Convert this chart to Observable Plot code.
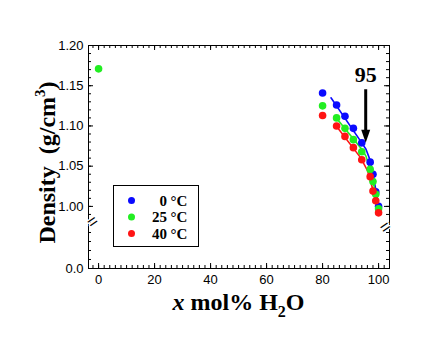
<!DOCTYPE html>
<html><head><meta charset="utf-8">
<script src="https://cdn.jsdelivr.net/npm/d3@7"></script>
<script src="https://cdn.jsdelivr.net/npm/@observablehq/plot@0.6"></script>
<style>
body{margin:0;background:#fff;}
#wrap{width:434px;height:346px;}
</style></head><body><div id="wrap"></div>
<script>
// ---- data ----
const series = ["0", "25", "40"];
const seriesColors = ["#0a0aff", "#22ee22", "#ff1414"];
const xMol = [80, 85, 88, 91, 94, 97, 98, 99, 100];
const density0 = [1.141, 1.126, 1.112, 1.097, 1.079, 1.055, 1.040, 1.018, 1.000];
const density25 = [1.125, 1.110, 1.097, 1.083, 1.068, 1.046, 1.031, 1.015, 0.997];
const density40 = [1.113, 1.100, 1.087, 1.073, 1.058, 1.037, 1.019, 1.007, 0.992];
const pureX25 = [0];
const pureDensity25 = [1.171];
// fitted curves
const fitX0 = [83, 94, 95.5, 96.7, 97.6, 99, 100];
const fitY0 = [1.135, 1.079, 1.071, 1.060, 1.046, 1.021, 1.000];
const fitX25 = [84.4, 94, 95.5, 96.9, 98.4, 100];
const fitY25 = [1.112, 1.071, 1.0625, 1.046, 1.025, 0.998];
const fitX40 = [84.4, 93.7, 94.9, 96.1, 97.3, 99, 100];
const fitY40 = [1.102, 1.060, 1.052, 1.044, 1.029, 1.008, 0.994];
// annotation
const arrowAt = 95.4, arrowTop = 1.145, arrowTip = 1.079, arrowLabel = "95", arrowLabelY = 1.163;
// axes
const xTicks = [0, 20, 40, 60, 80, 100];
const yTicks = [0.0, 1.00, 1.05, 1.10, 1.15, 1.20];
const yBreak = 0.9775;
const yMinorLower = [0.2, 0.4, 0.6, 0.8];

// ---- build tables ----
const densities = [density0, density25, density40];
const rows = [];
series.forEach((s, i) => xMol.forEach((x, j) => rows.push({series: s, x, y: densities[i][j]})));
pureX25.forEach((x, j) => rows.push({series: "25", x, y: pureDensity25[j]}));
const fits = [[fitX0, fitY0], [fitX25, fitY25], [fitX40, fitY40]];
const fitRows = [];
series.forEach((s, i) => fits[i][0].forEach((x, j) => fitRows.push({series: s, x, y: fits[i][1][j]})));

const W = 434, H = 346, mL = 88, mR = 45, mT = 45, mB = 78;
const fw = W - mL - mR, fh = H - mT - mB;
const xMinor = d3.range(-2, 104, 2);
const yMinorUpper = d3.range(98, 121, 1).map(d => d / 100);
const yMajorTicks = yTicks;

const chart = Plot.plot({
  width: W, height: H, marginLeft: mL, marginRight: mR, marginTop: mT, marginBottom: mB,
  style: {fontFamily: "'Liberation Sans', Arial, sans-serif", fontSize: "13px", color: "#000", background: "#fff"},
  x: {domain: [-3.6, 103.9]},
  y: {type: "linear", domain: [0, yBreak, 1.2], range: [H - mB, 224, mT]},
  color: {domain: series, range: seriesColors},
  marks: [
    Plot.frame({stroke: "#000"}),
    // ticks (inward)
    Plot.tickY(yMajorTicks, {y: d => d, insetRight: fw - 5, stroke: "#000"}),
    Plot.tickY(yMajorTicks, {y: d => d, insetLeft: fw - 5, stroke: "#000"}),
    Plot.tickY(yMinorUpper.concat(yMinorLower), {y: d => d, insetRight: fw - 3, stroke: "#000"}),
    Plot.tickY(yMinorUpper.concat(yMinorLower), {y: d => d, insetLeft: fw - 3, stroke: "#000"}),
    Plot.tickX(xTicks, {x: d => d, insetTop: fh - 5, stroke: "#000"}),
    Plot.tickX(xTicks, {x: d => d, insetBottom: fh - 5, stroke: "#000"}),
    Plot.tickX(xMinor, {x: d => d, insetTop: fh - 3, stroke: "#000"}),
    Plot.tickX(xMinor, {x: d => d, insetBottom: fh - 3, stroke: "#000"}),
    // tick labels
    Plot.axisY(yTicks, {anchor: "left", tickSize: 0, tickPadding: 5, label: null,
      tickFormat: d => d === 0 ? "0.0" : d.toFixed(2)}),
    Plot.axisX(xTicks, {anchor: "bottom", tickSize: 0, tickPadding: 6, label: null}),
    // axis break marks
    Plot.text([yBreak], {y: d => d, frameAnchor: "left", text: () => "=", rotate: -34, fontSize: 17,
      fill: "#000", stroke: "#fff", strokeWidth: 2.5, paintOrder: "stroke"}),
    Plot.text([yBreak], {y: d => d, frameAnchor: "right", text: () => "=", rotate: -34, fontSize: 17,
      fill: "#000", stroke: "#fff", strokeWidth: 2.5, paintOrder: "stroke"}),
    // data
    Plot.line(fitRows, {x: "x", y: "y", z: "series", stroke: "series", strokeWidth: 1.6}),
    Plot.dot(rows, {x: "x", y: "y", fill: "series", r: 3.8}),
    // arrow annotation
    Plot.ruleX([arrowAt], {x: d => d, y1: () => arrowTop, y2: () => arrowTip + 0.014, strokeWidth: 3, stroke: "#000"}),
    Plot.vector([arrowAt], {x: d => d, y: () => arrowTip, length: 13, r: 4.5, shape: "spike", anchor: "end",
      rotate: 180, fill: "#000", stroke: "none"}),
    Plot.text([arrowLabel], {x: () => arrowAt, y: () => arrowLabelY, text: d => d, fontSize: 22,
      fontWeight: "bold", fontFamily: "'Liberation Serif', 'Times New Roman', serif", fill: "#000"})
  ]
});
document.getElementById("wrap").appendChild(chart);

// axis titles and legend
const svg = d3.select(chart);
const serif = "'Liberation Serif', 'Times New Roman', serif";
const yt = svg.append("text")
  .attr("transform", `translate(55,${(mT + H - mB) / 2 + 6}) rotate(-90)`)
  .attr("text-anchor", "middle").attr("font-family", serif).attr("font-weight", "bold")
  .attr("font-size", 24).attr("fill", "#000");
yt.append("tspan").text("Density");
yt.append("tspan").attr("dx", 12).text("(g/cm");
yt.append("tspan").attr("dy", -10).attr("font-size", 15).text("3");
yt.append("tspan").attr("dy", 10).text(")");

const xt = svg.append("text")
  .attr("x", mL + fw / 2).attr("y", 310)
  .attr("text-anchor", "middle").attr("font-family", serif).attr("font-weight", "bold")
  .attr("font-size", 24).attr("fill", "#000");
xt.append("tspan").attr("font-style", "italic").text("x");
xt.append("tspan").text(" mol% H");
xt.append("tspan").attr("dy", 7).attr("font-size", 16).text("2");
xt.append("tspan").attr("dy", -7).text("O");

const lg = svg.append("g").attr("transform", "translate(113.5,185.5)");
lg.append("rect").attr("width", 85).attr("height", 61).attr("fill", "#fff").attr("stroke", "#000");
series.forEach((s, i) => {
  const yy = 15 + i * 16.5;
  lg.append("circle").attr("cx", 18).attr("cy", yy).attr("r", 3.5).attr("fill", seriesColors[i]);
  lg.append("text").attr("x", 53.5).attr("y", yy + 5).attr("text-anchor", "end")
    .attr("font-family", serif).attr("font-weight", "bold").attr("font-size", 15).attr("fill", "#000").text(s);
  lg.append("text").attr("x", 57).attr("y", yy + 5).attr("text-anchor", "start")
    .attr("font-family", serif).attr("font-weight", "bold").attr("font-size", 15).attr("fill", "#000").text("°C");
});
</script>
</body></html>
